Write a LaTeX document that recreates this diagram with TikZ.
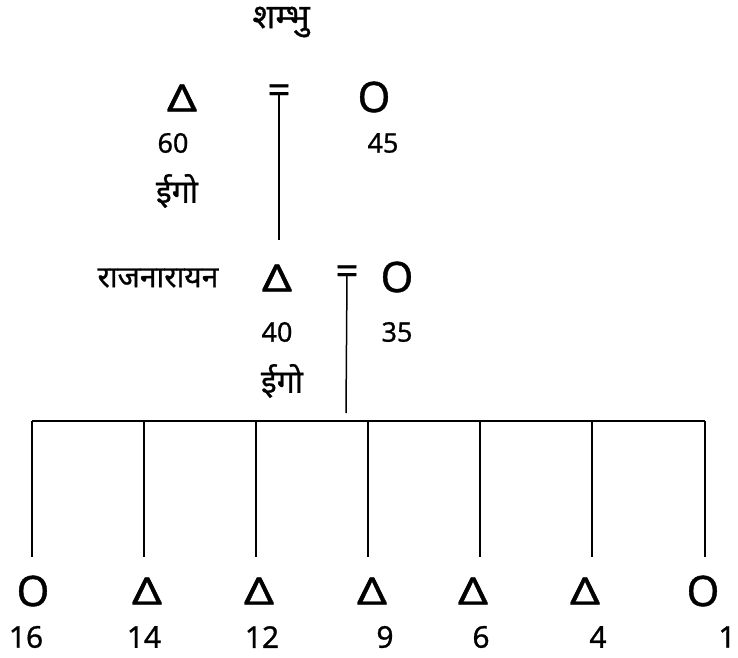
\documentclass[tikz,border=0pt]{standalone}
\usepackage{fontspec}
\setmainfont{Noto Sans}
\newfontfamily\deva[Script=Devanagari,FakeBold=0.8]{Noto Sans}
\newfontfamily\symf[FakeBold=0.9]{Noto Sans}
\newcommand{\tri}{\scalebox{1.3}[1.05]{Δ}}
\begin{document}
\begin{tikzpicture}[x=1pt,y=-1pt,
  every node/.style={inner sep=0pt,outer sep=0pt},
  tri/.style={font=\symf\fontsize{36}{38}\selectfont},
  circ/.style={font=\symf\fontsize{42}{44}\selectfont},
  eqs/.style={font=\symf\fontsize{40}{42}\selectfont},
  num/.style={font=\symf\fontsize{27}{29}\selectfont},
  bnum/.style={font=\symf\fontsize{30}{32}\selectfont},
  dtext/.style={font=\deva\fontsize{30}{32}\selectfont},
  link/.style={line width=1.5pt}]
\useasboundingbox (0,0) rectangle (738,657);
% generation 1
\node[dtext,font=\deva\fontsize{34}{36}\selectfont] (sh) at (281,22) {शम्भु};
\node[tri] (t1) at (182,98) {\tri};
\node[eqs] (eq1) at (279,94) {=};
\node[circ] (o1) at (374,97) {O};
\node[num] (n60) at (173,143) {60};
\node[num] (n45) at (383,143) {45};
\node[dtext,font=\deva\fontsize{32}{34}\selectfont] (ego1) at (177,191) {ईगो};
\coordinate (e1) at (279,240);
\draw[link] (eq1.center) -- (e1);
% generation 2
\node[dtext] (raj) at (158,278) {राजनारायन};
\node[tri] (t2) at (277,278) {\tri};
\node[eqs] (eq2) at (347,275) {=};
\node[circ] (o2) at (397,277) {O};
\node[num] (n40) at (277,332) {40};
\node[num] (n35) at (397,332) {35};
\node[dtext,font=\deva\fontsize{32}{34}\selectfont] (ego2) at (282,381) {ईगो};
\coordinate (e2) at (346,413);
\draw[link] (eq2.center) -- (e2);
% children
\foreach \i/\x/\sx/\sty/\sym/\nx/\n in {
  1/32/33/circ/O/26/16,
  2/144/147/tri/\tri/144/14,
  3/256/259/tri/\tri/262/12,
  4/368/372/tri/\tri/385/9,
  5/480/473/tri/\tri/481/6,
  6/592/585/tri/\tri/598/4,
  7/705/703/circ/O/727/1}{
  \coordinate (b\i) at (\x,421);
  \coordinate (d\i) at (\x,557);
  \node[\sty] (c\i) at (\sx,591) {\sym};
  \node[bnum] (k\i) at (\nx,637) {\n};
  \draw[link] (b\i) -- (d\i);
}
\draw[link] (b1) -- (b7);
\end{tikzpicture}
\end{document}
